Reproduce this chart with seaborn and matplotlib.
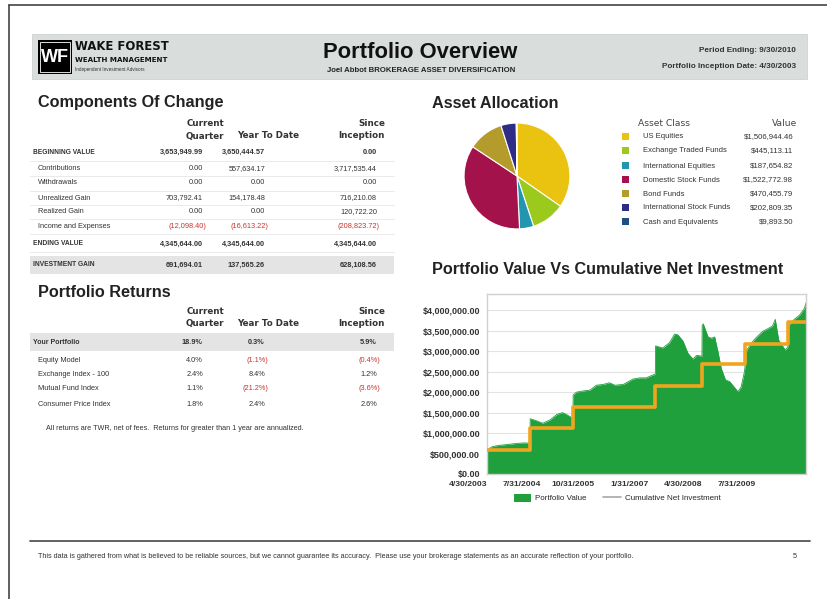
import numpy as np
import pandas as pd
import matplotlib
matplotlib.use("Agg")
import matplotlib.pyplot as plt
from matplotlib.patches import Rectangle, Patch
from matplotlib.lines import Line2D
from matplotlib.ticker import FuncFormatter
import seaborn as sns

sns.set_theme(style="white")
plt.rcParams["font.family"] = ["Liberation Sans", "DejaVu Sans"]

W, H = 828, 599

# ---- data ----
change_rows = ["BEGINNING VALUE", "Contributions", "Withdrawals", "Unrealized Gain",
               "Realized Gain", "Income and Expenses", "ENDING VALUE", "INVESTMENT GAIN"]
change_qtr = ["3,653,949.99", "0.00", "0.00", "703,792.41", "0.00", "(12,098.40)",
              "4,345,644.00", "691,694.01"]
change_ytd = ["3,650,444.57", "557,634.17", "0.00", "154,178.48", "0.00", "(16,613.22)",
              "4,345,644.00", "137,565.26"]
change_inc = ["0.00", "3,717,535.44", "0.00", "716,210.08", "120,722.20", "(208,823.72)",
              "4,345,644.00", "628,108.56"]

ret_rows = ["Your Portfolio", "Equity Model", "Exchange Index - 100",
            "Mutual Fund Index", "Consumer Price Index"]
ret_qtr = ["18.9%", "4.0%", "2.4%", "1.1%", "1.8%"]
ret_ytd = ["0.3%", "(1.1%)", "8.4%", "(21.2%)", "2.4%"]
ret_inc = ["5.9%", "(0.4%)", "1.2%", "(3.6%)", "2.6%"]

asset_names = ["US Equities", "Exchange Traded Funds", "International Equities",
               "Domestic Stock Funds", "Bond Funds", "International Stock Funds",
               "Cash and Equivalents"]
asset_values = [1506944.46, 445113.11, 187654.82, 1522772.98, 470455.79, 202809.35, 9893.50]
asset_colors = ["#E9C310", "#9BC91C", "#2196AE", "#A3124B", "#B39B2C", "#2F2C86", "#1E4F80"]

value_dates = ["2003-04-30", "2003-06-15", "2003-08-10", "2003-09-15", "2003-11-15",
               "2004-01-15", "2004-03-15", "2004-04-29", "2004-05-01", "2004-06-15",
               "2004-08-15", "2004-10-15", "2004-12-15", "2005-01-31", "2005-03-01",
               "2005-04-29", "2005-05-01", "2005-05-28", "2005-07-25", "2005-09-20",
               "2005-11-15", "2006-01-12", "2006-03-05", "2006-04-20", "2006-07-01",
               "2006-09-20", "2006-11-18", "2007-01-12", "2007-03-08", "2007-03-30",
               "2007-04-01", "2007-06-01", "2007-07-28", "2007-09-10", "2007-10-08",
               "2007-11-20", "2008-01-01", "2008-02-12", "2008-03-15", "2008-04-29",
               "2008-05-01", "2008-05-10", "2008-06-20", "2008-07-18", "2008-08-15",
               "2008-09-12", "2008-10-10", "2008-11-15", "2008-12-20", "2009-01-18",
               "2009-03-01", "2009-03-28", "2009-04-25", "2009-05-15", "2009-06-20",
               "2009-08-01", "2009-09-28", "2009-11-08", "2009-12-20", "2010-01-12",
               "2010-02-10", "2010-03-15", "2010-04-05", "2010-04-29", "2010-05-05",
               "2010-06-22", "2010-08-05", "2010-09-15", "2010-09-30"]
value_amounts = [590000, 670000, 700000, 710000, 730000,
                 750000, 760000, 750000, 1350000, 1310000,
                 1240000, 1320000, 1460000, 1500000, 1460000,
                 1360000, 1930000, 2000000, 2030000, 2050000,
                 2170000, 2190000, 2230000, 2170000, 2190000,
                 2320000, 2350000, 2350000, 2420000, 2440000,
                 3130000, 3080000, 3210000, 3420000, 3400000,
                 3250000, 2950000, 2810000, 2900000, 2880000,
                 3630000, 3670000, 3350000, 3320000, 3350000,
                 2990000, 2580000, 2300000, 2260000, 2160000,
                 2010000, 2130000, 2500000, 3030000, 3190000,
                 3330000, 3490000, 3550000, 3620000, 3780000,
                 3270000, 3130000, 3030000, 3100000, 3630000,
                 3780000, 3880000, 4040000, 4180000]

invest_dates = ["2003-04-30", "2004-04-30", "2005-04-30", "2007-03-31", "2008-04-30",
                "2009-04-30", "2010-04-30", "2010-09-30"]
invest_amounts = [590000, 1120000, 1630000, 2150000, 2680000, 3190000, 3717535, 3717535]

xtick_dates = ["2003-04-30", "2004-07-31", "2005-10-31", "2007-01-31", "2008-04-30", "2009-07-31"]
xtick_labels = ["4/30/2003", "7/31/2004", "10/31/2005", "1/31/2007", "4/30/2008", "7/31/2009"]

footer = ("This data is gathered from what is believed to be reliable sources, but we cannot "
          "guarantee its accuracy.  Please use your brokerage statements as an accurate "
          "reflection of your portfolio.")

RED = "#C8362F"
DARK = "#333333"
GREEN = "#1FA03C"
ORANGE = "#F0A51E"
TITLE = 11.7

fig = plt.figure(figsize=(W / 100, H / 100), dpi=100)
fig.patch.set_facecolor("white")


def put(x, y, s, **kw):
    kw.setdefault("va", "center")
    kw.setdefault("color", DARK)
    return fig.text(x / W, 1 - y / H, s, **kw)


def rect(x0, y0, x1, y1, **kw):
    fig.patches.append(Rectangle((x0 / W, 1 - y1 / H), (x1 - x0) / W, (y1 - y0) / H,
                                 transform=fig.transFigure, **kw))


def hline(x0, x1, y, **kw):
    fig.add_artist(Line2D([x0 / W, x1 / W], [1 - y / H, 1 - y / H],
                          transform=fig.transFigure, **kw))


# page frame
hline(9, W, 5, color="#444444", lw=1.2)
fig.add_artist(Line2D([9 / W, 9 / W], [1 - 5 / H, 0], transform=fig.transFigure,
                      color="#444444", lw=1.2))

# ---- header ----
rect(32, 34, 807, 79, facecolor="#D9DEDC", edgecolor="#CED3D1", lw=0.6)
rect(38, 40, 72, 74, facecolor="black", edgecolor="none")
rect(40, 42, 70, 72, facecolor="none", edgecolor="white", lw=0.6)
put(55, 58, "WF", ha="center", fontsize=13, fontweight="bold", color="white")
put(75, 47, "WAKE FOREST", fontsize=8.4, fontweight="bold", color="#111111",
    family=["DejaVu Sans"])
put(75, 60, "WEALTH MANAGEMENT", fontsize=5.1, fontweight="bold", color="#111111",
    family=["DejaVu Sans"])
put(75, 69, "Independent Investment Advisors", fontsize=3.3, color="#333333")
put(420, 53, "Portfolio Overview", ha="center", fontsize=15.8, fontweight="bold", color="#111111")
put(421, 70, "Joel Abbot BROKERAGE ASSET DIVERSIFICATION", ha="center", fontsize=5.6,
    fontweight="bold", color="#222222")
put(796, 50, "Period Ending: 9/30/2010", ha="right", fontsize=5.9, fontweight="bold")
put(796, 67, "Portfolio Inception Date: 4/30/2003", ha="right", fontsize=5.9, fontweight="bold")

# ---- tables ----
col_x = [203, 265, 377]
head_kw = dict(fontsize=6.3, fontweight="bold", color="#333333", family=["DejaVu Sans"])


def col_heads(y1, y2):
    put(224, y1, "Current", ha="right", **head_kw)
    put(224, y2, "Quarter", ha="right", **head_kw)
    put(268, y2, "Year To Date", ha="center", **head_kw)
    put(385, y1, "Since", ha="right", **head_kw)
    put(385, y2, "Inception", ha="right", **head_kw)


def cell(x, y, s, bold=False):
    c = RED if s.startswith("(") else DARK
    xx = x + 3 if s.startswith("(") else x
    put(xx, y, s, ha="right", fontsize=5.3, color=c, fontweight="bold" if bold else "normal")


put(38, 103, "Components Of Change", fontsize=TITLE, fontweight="bold", color="#222222")
col_heads(123, 136)
change_y = [152, 169, 183, 198, 212, 227, 244, 265]
rect(30, 256, 394, 274, facecolor="#E4E4E4", edgecolor="none")
for yy in [161, 176, 191, 205, 219, 234, 252]:
    hline(30, 394, yy, color="#E6E6E6", lw=0.6)
for i, name in enumerate(change_rows):
    y = change_y[i]
    major = name.isupper()
    put(33 if major else 38, y, name, fontsize=4.8 if major else 5.3,
        fontweight="bold" if major else "normal")
    for x, vals in zip(col_x, [change_qtr, change_ytd, change_inc]):
        cell(x, y, vals[i], bold=major)

put(38, 292, "Portfolio Returns", fontsize=TITLE, fontweight="bold", color="#222222")
col_heads(312, 324)
ret_y = [342, 360, 375, 389, 404]
rect(30, 333, 394, 351, facecolor="#E4E4E4", edgecolor="none")
for i, name in enumerate(ret_rows):
    y = ret_y[i]
    first = i == 0
    put(33 if first else 38, y, name, fontsize=5.0 if first else 5.3,
        fontweight="bold" if first else "normal")
    for x, vals in zip(col_x, [ret_qtr, ret_ytd, ret_inc]):
        cell(x, y, vals[i], bold=first)
put(46, 429, "All returns are TWR, net of fees.  Returns for greater than 1 year are annualized.",
    fontsize=5.2)

# ---- asset allocation ----
put(432, 104, "Asset Allocation", fontsize=TITLE, fontweight="bold", color="#222222")
r = 54
cx, cy = 517, 176
ax_pie = fig.add_axes([(cx - r) / W, 1 - (cy + r) / H, 2 * r / W, 2 * r / H])
ax_pie.pie(asset_values, colors=asset_colors, startangle=90, counterclock=False,
           wedgeprops=dict(edgecolor="white", linewidth=0.8))
ax_pie.set_xlim(-1.02, 1.02)
ax_pie.set_ylim(-1.02, 1.02)

put(638, 123, "Asset Class", fontsize=6.6, color="#444444", family=["DejaVu Sans"])
put(797, 123, "Value", ha="right", fontsize=6.6, color="#444444", family=["DejaVu Sans"])
leg_y = [137, 151, 166, 180, 194, 208, 222]
for i, name in enumerate(asset_names):
    y = leg_y[i]
    rect(622, y - 4, 629, y + 3, facecolor=asset_colors[i], edgecolor="none")
    put(643, y, name, fontsize=5.5)
    put(793, y, f"${asset_values[i]:,.2f}", ha="right", fontsize=5.6)

# ---- value chart ----
put(432, 270, "Portfolio Value Vs Cumulative Net Investment", fontsize=TITLE,
    fontweight="bold", color="#222222")
vdf = pd.DataFrame({"date": pd.to_datetime(value_dates), "value": value_amounts})
idf = pd.DataFrame({"date": pd.to_datetime(invest_dates), "invest": invest_amounts})

left, right, top, bottom = 487, 806, 294, 474
ax = fig.add_axes([left / W, 1 - bottom / H, (right - left) / W, (bottom - top) / H])
ax.fill_between(vdf["date"], 0, vdf["value"], color=GREEN, lw=0, zorder=2)
sns.lineplot(data=vdf, x="date", y="value", ax=ax, color=GREEN, lw=0.6, zorder=2)
sns.lineplot(data=idf, x="date", y="invest", ax=ax, color=ORANGE, lw=2.6,
             drawstyle="steps-post", zorder=3)
ax.set_xlim(vdf["date"].iloc[0], vdf["date"].iloc[-1])
ax.set_ylim(0, 4400000)
ax.set_yticks(np.arange(0, 4000001, 500000))
ax.yaxis.set_major_formatter(FuncFormatter(lambda v, p: f"${v:,.2f}"))
ax.set_xticks(pd.to_datetime(xtick_dates))
ax.set_xticklabels(xtick_labels)
for lab in ax.get_xticklabels():
    lab.set_ha("right")
ax.tick_params(axis="y", labelsize=6.5, colors="#333333", length=0, pad=5)
ax.tick_params(axis="x", labelsize=6.1, colors="#333333", length=0, pad=5)
for lab in ax.get_xticklabels() + ax.get_yticklabels():
    lab.set_fontweight("bold")
ax.grid(axis="y", color="#E3E3E3", lw=0.8, zorder=0)
ax.set_axisbelow(True)
ax.set_xlabel("")
ax.set_ylabel("")
for s in ax.spines.values():
    s.set_color("#D0D0D0")
    s.set_linewidth(1.0)
if ax.get_legend():
    ax.get_legend().remove()

handles = [Patch(facecolor=GREEN, edgecolor="none"),
           Line2D([], [], color="#A8A8A8", lw=1.2)]
fig.legend(handles, ["Portfolio Value", "Cumulative Net Investment"], loc="center",
           bbox_to_anchor=(617 / W, 1 - 498 / H), ncol=2, frameon=False, fontsize=5.8,
           handlelength=2.2, handleheight=1.2, columnspacing=2.0, handletextpad=0.5)

# ---- footer ----
hline(30, 810, 541, color="#555555", lw=1.3)
put(38, 557, footer, fontsize=5.2)
put(797, 557, "5", ha="right", fontsize=5.2)

fig.savefig("out.png", dpi=100)
